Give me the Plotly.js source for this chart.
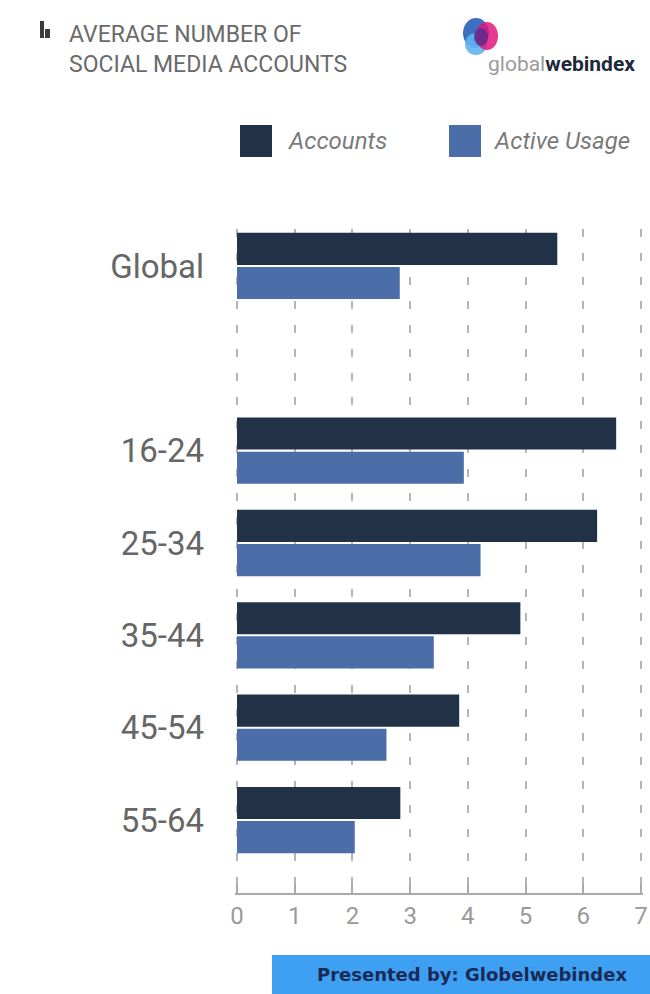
<!DOCTYPE html>
<html>
<head>
<meta charset="utf-8">
<script src="https://cdn.plot.ly/plotly-3.0.1.min.js"></script>
<style>
  html, body { margin: 0; padding: 0; background: #ffffff; }
  #chart { width: 650px; height: 994px; }
</style>
</head>
<body>
<div id="chart"></div>
<script>
// ---- data ----
const categories = ["Global", " ", "16-24", "25-34", "35-44", "45-54", "55-64"];
const accounts = [5.55, null, 6.57, 6.24, 4.91, 3.85, 2.83];
const activeUsage = [2.82, null, 3.93, 4.22, 3.41, 2.59, 2.04];
const seriesNames = ["Accounts", "Active Usage"];
const xTicks = [0, 1, 2, 3, 4, 5, 6, 7];
const titleLines = ["AVERAGE NUMBER OF", "SOCIAL MEDIA ACCOUNTS"];
const footerText = "Presented by: Globelwebindex";

const colors = ["#213246", "#4b6ea9"];
const FONT = "Roboto, 'DejaVu Sans', sans-serif";

const traces = [
  { type: "bar", orientation: "h", name: seriesNames[0], y: categories, x: accounts,
    marker: { color: colors[0] }, hoverinfo: "x" },
  { type: "bar", orientation: "h", name: seriesNames[1], y: categories, x: activeUsage,
    marker: { color: colors[1] }, hoverinfo: "x" }
];

// pixel helpers for decorative items (paper coords)
const L = 235, R = 7, T = 229, B = 101, W = 650, H = 994;
const PW = W - L - R, PH = H - T - B;
const px = v => (v - L) / PW;
const py = v => (H - B - v) / PH;

function rect(x0, x1, y0, y1, color, extra) {
  return Object.assign({ type: "rect", xref: "paper", yref: "paper",
    x0: px(x0), x1: px(x1), y0: py(y1), y1: py(y0),
    fillcolor: color, line: { width: 0 } }, extra || {});
}
function circle(x0, x1, y0, y1, color, opacity) {
  return { type: "circle", xref: "paper", yref: "paper",
    x0: px(x0), x1: px(x1), y0: py(y1), y1: py(y0),
    fillcolor: color, opacity: opacity, line: { width: 0 } };
}

const layout = {
  width: W, height: H,
  margin: { l: L, r: R, t: T, b: B },
  paper_bgcolor: "#ffffff", plot_bgcolor: "#ffffff",
  showlegend: false,
  barmode: "group",
  bargap: 0.26,
  bargroupgap: 0.06,
  font: { family: FONT, color: "#777" },
  xaxis: {
    range: [-0.035, 7.035],
    tickvals: xTicks,
    ticktext: xTicks.map(String),
    showgrid: true, gridcolor: "#b5b5b5", gridwidth: 2, griddash: "8px,16px",
    zeroline: false,
    showline: true, linecolor: "#aaaaaa", linewidth: 2,
    ticks: "inside", ticklen: 9, tickwidth: 2, tickcolor: "#aaaaaa",
    tickfont: { family: FONT, size: 24, color: "#9a9a9a" },
    fixedrange: true
  },
  yaxis: {
    type: "category",
    categoryorder: "array", categoryarray: categories,
    range: [6.79, -0.4],
    showgrid: false, zeroline: false, showline: false,
    ticks: "", ticklabelstandoff: 30,
    tickfont: { family: FONT, size: 33, color: "#666666" },
    fixedrange: true
  },
  shapes: [
    rect(240, 272, 125, 157, colors[0]),
    rect(449, 481, 125, 157, colors[1]),
    rect(272, 650, 955, 994, "#3da0f3"),
    rect(40, 44, 21, 38, "#3a3a3a"),
    rect(45, 50, 29, 38, "#3a3a3a"),
    circle(463, 489, 18, 48, "#3c6fc0", 1),
    circle(465, 487, 33, 55, "#5fb4ef", 0.9),
    circle(476, 498, 22, 50, "#e0177c", 0.85),
    circle(474, 488, 28, 46, "#5a2a8c", 0.8)
  ],
  annotations: [
    { xref: "paper", yref: "paper", x: px(67), y: py(19),
      xanchor: "left", yanchor: "top", align: "left", showarrow: false,
      text: titleLines.join("<br>"),
      font: { family: FONT, size: 23, color: "#6a6a6a" } },
    { xref: "paper", yref: "paper", x: px(286), y: py(141),
      xanchor: "left", yanchor: "middle", showarrow: false,
      text: "<i>" + seriesNames[0] + "</i>",
      font: { family: FONT, size: 24, color: "#7a7a7a" } },
    { xref: "paper", yref: "paper", x: px(492), y: py(141),
      xanchor: "left", yanchor: "middle", showarrow: false,
      text: "<i>" + seriesNames[1] + "</i>",
      font: { family: FONT, size: 24, color: "#7a7a7a" } },
    { xref: "paper", yref: "paper", x: px(486), y: py(64),
      xanchor: "left", yanchor: "middle", showarrow: false,
      text: "<span style='color:#9a9a9a'>global</span><b>webindex</b>",
      font: { family: FONT, size: 21, color: "#1e2a3a" } },
    { xref: "paper", yref: "paper", x: px(472), y: py(974),
      xanchor: "center", yanchor: "middle", showarrow: false,
      text: "<b>" + footerText + "</b>",
      font: { family: "'DejaVu Sans', sans-serif", size: 18, color: "#1a2a55" } }
  ]
};

Plotly.newPlot("chart", traces, layout, { staticPlot: true, displayModeBar: false });
</script>
</body>
</html>
